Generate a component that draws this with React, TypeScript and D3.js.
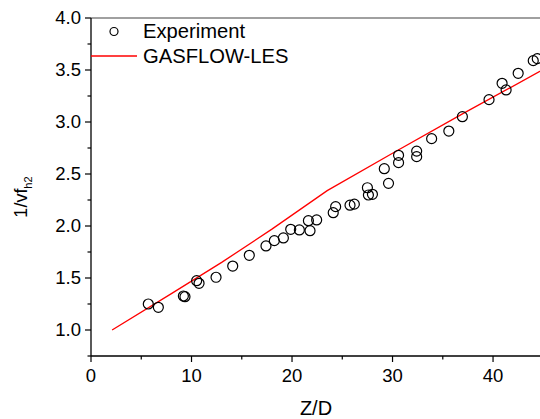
import React from "react";
import * as d3 from "d3";

const expZ = [5.7, 6.7, 9.19, 9.35, 10.51, 10.75, 12.44, 14.1, 15.75, 17.41, 18.24, 19.14, 19.87, 20.73, 21.63, 21.79, 22.45, 24.1, 24.34, 25.77, 26.2, 27.5, 27.6, 28.0, 29.18, 29.6, 30.6, 30.6, 32.4, 32.4, 33.89, 35.6, 36.95, 39.6, 40.9, 41.3, 42.5, 44.0, 44.4];
const expV = [1.25, 1.218, 1.327, 1.32, 1.474, 1.449, 1.507, 1.615, 1.718, 1.808, 1.859, 1.885, 1.968, 1.962, 2.051, 1.955, 2.058, 2.128, 2.186, 2.2, 2.21, 2.368, 2.298, 2.305, 2.551, 2.41, 2.68, 2.609, 2.72, 2.667, 2.84, 2.913, 3.051, 3.215, 3.372, 3.308, 3.468, 3.59, 3.609];

const lesZ = [2.1, 8, 13, 18, 23.5, 30, 37, 45];
const lesV = [1.0, 1.35, 1.65, 1.97, 2.34, 2.70, 3.08, 3.505];

const xTicks = [0, 10, 20, 30, 40];
const xMinor = [5, 15, 25, 35, 45];
const yTicks = [1.0, 1.5, 2.0, 2.5, 3.0, 3.5, 4.0];
const yMinor = [0.75, 1.25, 1.75, 2.25, 2.75, 3.25, 3.75];

const W = 540;
const H = 419;
const FONT = "Liberation Sans, Arial, sans-serif";

export default function App() {
  const x = d3.scaleLinear().domain([0, 45]).range([91, 543.3]);
  const y = d3.scaleLinear().domain([0.75, 4.0]).range([356, 18]);
  const x0 = x(0);
  const yb = y(0.75);
  const line = d3
    .line<number>()
    .x((d, i) => x(lesZ[i]))
    .y((d) => y(d));

  return (
    <svg
      width={W}
      height={H}
      style={{ position: "absolute", left: 0, top: 0, background: "#fff" }}
      fontFamily={FONT}
    >
      <rect x={0} y={0} width={W} height={H} fill="#fff" />
      {/* top frame */}
      <line x1={x0} x2={W} y1={y(4)} y2={y(4)} stroke="#808080" strokeWidth={1.5} />
      {/* red line */}
      <path d={line(lesV) || ""} fill="none" stroke="#ff0000" strokeWidth={1.3} />
      {/* data */}
      {expZ.map((z, i) => (
        <circle key={i} cx={x(z)} cy={y(expV[i])} r={5} fill="none" stroke="#000" strokeWidth={1.2} />
      ))}
      {/* axes */}
      <line x1={x0} x2={x0} y1={y(4)} y2={yb} stroke="#000" strokeWidth={1.3} />
      <line x1={x0} x2={W} y1={yb} y2={yb} stroke="#000" strokeWidth={1.3} />
      {yTicks.map((t) => (
        <g key={"yt" + t}>
          <line x1={x0 - 6} x2={x0} y1={y(t)} y2={y(t)} stroke="#000" strokeWidth={1.2} />
          <text x={x0 - 10} y={y(t)} dy="0.35em" textAnchor="end" fontSize={18.5} fill="#000">
            {t.toFixed(1)}
          </text>
        </g>
      ))}
      {yMinor.map((t) => (
        <line key={"ym" + t} x1={x0 - 3.5} x2={x0} y1={y(t)} y2={y(t)} stroke="#000" strokeWidth={1.2} />
      ))}
      {xTicks.map((t) => (
        <g key={"xt" + t}>
          <line x1={x(t)} x2={x(t)} y1={yb} y2={yb + 6} stroke="#000" strokeWidth={1.2} />
          <text x={x(t)} y={381.5} textAnchor="middle" fontSize={18.5} fill="#000">
            {t}
          </text>
        </g>
      ))}
      {xMinor.map((t) => (
        <line key={"xm" + t} x1={x(t)} x2={x(t)} y1={yb} y2={yb + 3.5} stroke="#000" strokeWidth={1.2} />
      ))}
      {/* axis titles */}
      <text x={316} y={415} textAnchor="middle" fontSize={20} fill="#000">
        Z/D
      </text>
      <text transform="translate(27,197) rotate(-90)" textAnchor="middle" fontSize={18} fill="#000">
        1/vf
        <tspan fontSize={11} dy={5}>h2</tspan>
      </text>
      {/* legend */}
      <circle cx={114} cy={31.5} r={4} fill="none" stroke="#000" strokeWidth={1.2} />
      <text x={143} y={38} fontSize={20.2} fill="#000">
        Experiment
      </text>
      <line x1={91} x2={137} y1={56} y2={56} stroke="#ff0000" strokeWidth={1.3} />
      <text x={143} y={63} fontSize={20.2} fill="#000">
        GASFLOW-LES
      </text>
    </svg>
  );
}
